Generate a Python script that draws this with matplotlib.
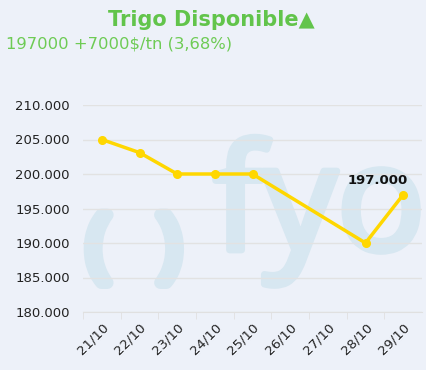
import matplotlib
matplotlib.use("Agg")
import matplotlib.pyplot as plt
import matplotlib.patheffects as pe
import numpy as np

categories = ["21/10", "22/10", "23/10", "24/10", "25/10", "26/10", "27/10", "28/10", "29/10"]
values = [205000, 203100, 200000, 200000, 200000, None, None, 190000, 197000]
yticks = [180000, 185000, 190000, 195000, 200000, 205000, 210000]
title = "Trigo Disponible▲"
subtitle = "197000 +7000$/tn (3,68%)"
last_label = "197.000"

bg = "#EDF1F9"
wm = "#D7E7F1"
fig = plt.figure(figsize=(4.26, 3.70), dpi=100, facecolor=bg)
ax = fig.add_axes([83/426, 1-312/370, (422-83)/426, (312-105)/370])
ax.set_facecolor(bg)

x = np.arange(len(categories))
pts = [(xi, v) for xi, v in zip(x, values) if v is not None]
px = [p[0] for p in pts]
py = [p[1] for p in pts]

# watermark logo
thick = [pe.withStroke(linewidth=9, foreground=wm)]
ax.text(0.045, 0.30, "(", transform=ax.transAxes, fontsize=56, color=wm,
        ha="center", va="center", family="Open Sans", zorder=0, clip_on=True,
        path_effects=thick)
ax.text(0.255, 0.30, ")", transform=ax.transAxes, fontsize=56, color=wm,
        ha="center", va="center", family="Open Sans", zorder=0, clip_on=True,
        path_effects=thick)
ax.text(0.385, 0.30, "fyo", transform=ax.transAxes, fontsize=106, color=wm,
        ha="left", va="baseline", family="Open Sans", zorder=0, clip_on=True,
        path_effects=[pe.withStroke(linewidth=5, foreground=wm)])

ax.plot(px, py, color="#FFD700", lw=2.5, marker="o", ms=5.5, zorder=3, clip_on=False)
ax.annotate(last_label, (px[-1], py[-1]), xytext=(-18, 10), textcoords="offset points",
            ha="center", va="center", fontsize=9.5, fontweight="bold", color="#111111", zorder=4)

ax.set_xlim(-0.5, len(categories) - 0.5)
ax.set_ylim(180000, 210000)
ax.set_yticks(yticks)
ax.set_yticklabels([f"{v:,}".replace(",", ".") for v in yticks], fontsize=9.5, color="#222222")
ax.set_xticks(x)
ax.set_xticklabels(categories, rotation=45, ha="right", rotation_mode="anchor", fontsize=9.5, color="#222222")
ax.set_xticks(np.arange(-0.5, len(categories) - 0.5), minor=True)
ax.tick_params(axis="x", which="major", length=0, pad=6)
ax.tick_params(axis="x", which="minor", length=5, color="#E0E0E0")
ax.tick_params(axis="y", length=0, pad=9.5)
ax.grid(axis="y", color="#E2E2E2", lw=1)
ax.set_axisbelow(True)
for s in ["top", "right", "left"]:
    ax.spines[s].set_visible(False)
ax.spines["bottom"].set_color("#E0E0E0")

fig.text(211/426, 1-20/370, title, ha="center", va="center", fontsize=15, fontweight="bold", color="#62C44B")
fig.text(6/426, 1-44/370, subtitle, ha="left", va="center", fontsize=11.8, color="#6ECB55")

fig.savefig("out.png", dpi=100, facecolor=bg)
